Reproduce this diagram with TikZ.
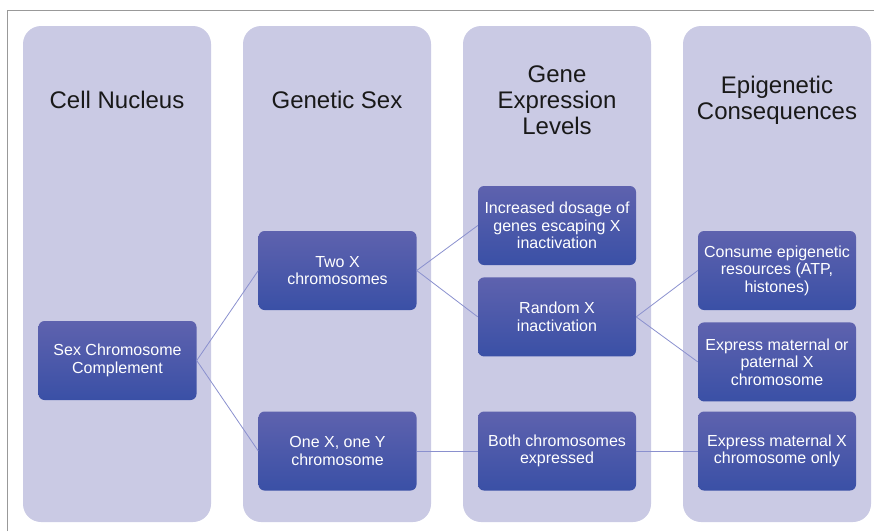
\documentclass[tikz,border=0pt]{standalone}
\usepackage{fontspec}
\setmainfont{Liberation Sans}
\usetikzlibrary{positioning}
\definecolor{colbg}{RGB}{202,202,228}
\definecolor{boxtop}{RGB}{94,98,174}
\definecolor{boxbot}{RGB}{58,80,166}
\definecolor{link}{RGB}{138,144,206}
\tikzset{
  stagebg/.style={fill=colbg,rounded corners=18pt,minimum width=188pt,minimum height=496pt,inner sep=0pt},
  title/.style={align=center,font=\fontsize{24}{26}\selectfont,text=black!90},
  box/.style={top color=boxtop,bottom color=boxbot,rounded corners=6pt,minimum width=158pt,
    minimum height=79pt,inner sep=0pt,align=center,text=white,font=\fontsize{16}{17.5}\selectfont},
  link/.style={draw=link,line width=0.8pt}
}
% column background + heading
\newcommand\stage[4]{\node(#1)[stagebg] at (#2,274){}; \node(#1t)[title] at (#2,#3){#4};}

\begin{document}
\begin{tikzpicture}[x=1pt,y=-1pt]
    \useasboundingbox (0,0) rectangle (874,531);
    \draw[gray!80,line width=0.8pt] (7,531) -- (7,10) -- (874,10);
    \stage{c1}{117}{100}{Cell Nucleus}
    \stage{c2}{337}{100}{Genetic Sex}
    \stage{c3}{557}{100}{Gene\\Expression\\Levels}
    \stage{c4}{777}{100}{Epigenetic\\Consequences}

    \node(scc)[box] at (117.5,360.5) {Sex Chromosome\\Complement};
    \node(twox)[box] at (337.5,270.5) {Two X\\chromosomes};
    \node(onexy)[box] at (337.5,451) {One X, one Y\\chromosome};
    \node(incr)[box] at (557,225.5) {Increased dosage of\\genes escaping X\\inactivation};
    \node(randx)[box,below=12pt of incr] {Random X\\inactivation};
    \node(both)[box] at (557,451) {Both chromosomes\\expressed};
    \node(cons)[box] at (777,270.5) {Consume epigenetic\\resources (ATP,\\histones)};
    \node(expmp)[box,below=12pt of cons] {Express maternal or\\paternal X\\chromosome};
    \node(expm)[box] at (777,451) {Express maternal X\\chromosome only};

    \draw[link] (scc.east) -- (twox.west);
    \draw[link] (scc.east) -- (onexy.west);
    \draw[link] (twox.east) -- (incr.west);
    \draw[link] (twox.east) -- (randx.west);
    \draw[link] (randx.east) -- (cons.west);
    \draw[link] (randx.east) -- (expmp.west);
    \draw[link] (onexy.east) -- (both.west);
    \draw[link] (both.east) -- (expm.west);
\end{tikzpicture}
\end{document}
